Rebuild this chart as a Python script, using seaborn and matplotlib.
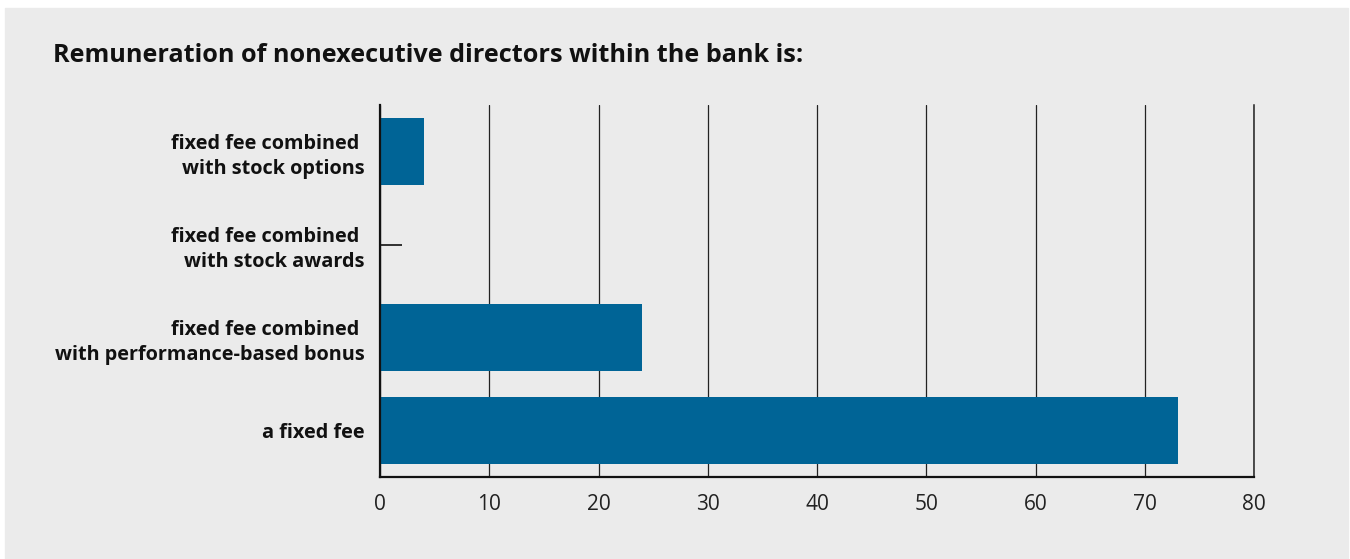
import matplotlib
matplotlib.use("Agg")
import matplotlib.pyplot as plt
import seaborn as sns
import pandas as pd

# Survey answers, listed top to bottom
categories = [
    "fixed fee combined \nwith stock options",
    "fixed fee combined \nwith stock awards",
    "fixed fee combined \nwith performance-based bonus",
    "a fixed fee",
]
shares = [4, 2, 24, 73]
# answers shown only as a thin stub rather than a filled bar
stub_categories = ["fixed fee combined \nwith stock awards"]
x_ticks = [0, 10, 20, 30, 40, 50, 60, 70, 80]
title = "Remuneration of nonexecutive directors within the bank is:"

BG = "#ebebeb"
BAR = "#006496"

sns.set_theme(style="white")
plt.rcParams["font.family"] = ["Open Sans", "DejaVu Sans"]

df = pd.DataFrame({"category": categories, "share": shares})

fig = plt.figure(figsize=(13.5, 5.59), dpi=100, facecolor="white")
# grey panel with a thin white margin at the top, left and right
fig.patches.append(plt.Rectangle((5 / 1350, 0), 1343 / 1350, 1 - 8 / 559,
                                 transform=fig.transFigure, color=BG, zorder=-10))
ax = fig.add_axes([380 / 1350, 1 - 477 / 559, 874 / 1350, 372 / 559])
ax.set_facecolor(BG)

sns.barplot(data=df, x="share", y="category", orient="h", color=BAR,
            width=0.73, saturation=1, linewidth=0, ax=ax, zorder=3)

for patch, cat in zip(ax.patches, categories):
    if cat in stub_categories:
        cy = patch.get_y() + patch.get_height() / 2
        patch.set_y(cy)
        patch.set_height(0)
        patch.set_facecolor("none")
        patch.set_edgecolor("#222222")
        patch.set_linewidth(1.3)

ax.set_xlim(x_ticks[0], x_ticks[-1])
ax.set_ylim(3.5, -0.5)
ax.set_xticks(x_ticks)
ax.set_xticklabels([str(t) for t in x_ticks], fontsize=15, color="#222222")
ax.tick_params(axis="x", length=0, pad=12)
ax.tick_params(axis="y", length=0, pad=11)
for lbl in ax.get_yticklabels():
    lbl.set_fontsize(14.3)
    lbl.set_fontweight("bold")
    lbl.set_color("#111111")
    lbl.set_linespacing(1.33)
    lbl.set_multialignment("right")
ax.set_xlabel("")
ax.set_ylabel("")

ax.grid(axis="x", color="#222222", linewidth=0.9, zorder=1)
ax.grid(axis="y", visible=False)
ax.spines["top"].set_visible(False)
ax.spines["right"].set_visible(True)
ax.spines["right"].set_color("#222222")
ax.spines["right"].set_linewidth(1.1)
for side in ("left", "bottom"):
    ax.spines[side].set_visible(True)
    ax.spines[side].set_color("#111111")
    ax.spines[side].set_linewidth(1.6)
    ax.spines[side].set_zorder(4)

fig.text(53 / 1350, 1 - 55 / 559, title, fontsize=18.2, fontweight="bold",
         color="#111111", va="center", ha="left")

fig.savefig("out.png", dpi=100, facecolor="white")
